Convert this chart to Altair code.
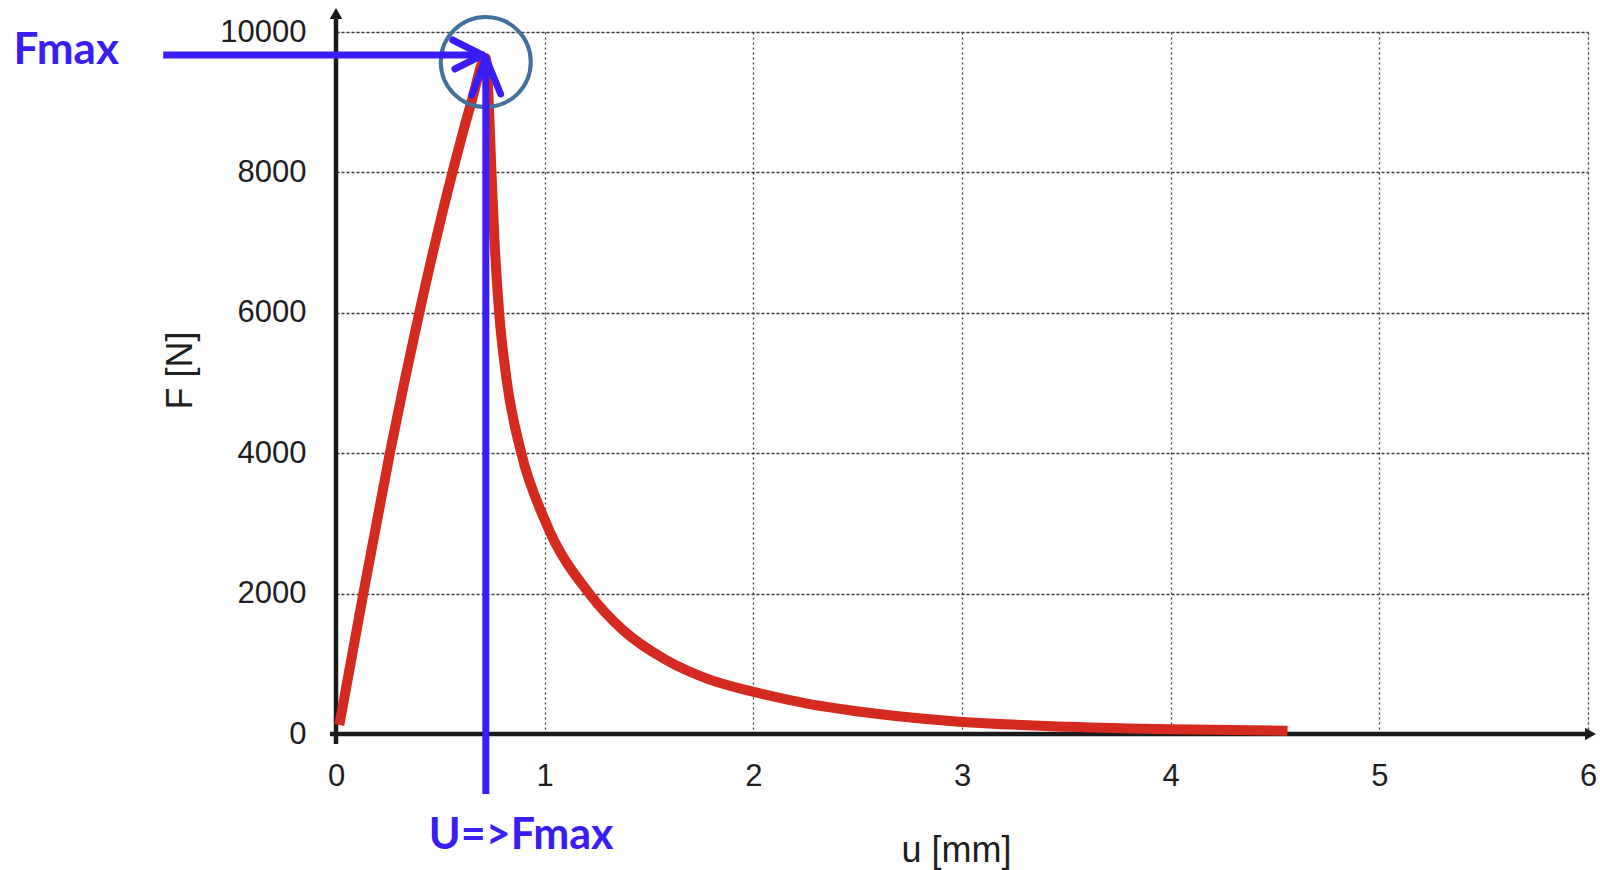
import altair as alt
import pandas as pd

# ---- data ----
u_mm = [0.016, 0.131, 0.258, 0.399, 0.558, 0.649, 0.718,
        0.732, 0.745, 0.760, 0.782, 0.815, 0.888, 1.000, 1.223,
        1.375, 1.582, 1.774, 1.997, 2.252, 2.571, 2.986, 3.510, 4.000, 4.560]
f_n = [128, 2000, 4000, 6000, 8000, 9000, 9630,
       9000, 8000, 7000, 6000, 5100, 4000, 3050, 1966,
       1481, 1054, 793, 603, 437, 295, 175, 104, 67, 47]

x_ticks = [0, 1, 2, 3, 4, 5, 6]
y_ticks = [0, 2000, 4000, 6000, 8000, 10000]

# annotation segments (data coordinates)
seg_u = [-0.828, 0.703, 0.703, 0.718, 0.718, 0.718]
seg_u2 = [0.703, 0.560, 0.570, 0.718, 0.651, 0.789]
seg_f = [9672, 9672, 9672, -855, 9630, 9630]
seg_f2 = [9672, 9886, 9473, 9630, 9103, 9117]

# axis lines (data coordinates)
axis_u = [-0.029, 0.0]
axis_u2 = [6.0, 0.0]
axis_f = [0, -142]
axis_f2 = [0, 10250]

W, H = 1252, 702
xs = alt.Scale(domain=[0, 6], nice=False, zero=False)
ys = alt.Scale(domain=[0, 10000], nice=False, zero=False)

BLUE = "#3A1CF4"
LABEL_FONT = "Liberation Sans"

curve_df = pd.DataFrame({"u": u_mm, "F": f_n, "i": list(range(len(u_mm)))})
seg_df = pd.DataFrame({"u": seg_u, "u2": seg_u2, "F": seg_f, "F2": seg_f2,
                       "main": [1, 0, 0, 1, 0, 0]})
axis_df = pd.DataFrame({"u": axis_u, "u2": axis_u2, "F": axis_f, "F2": axis_f2})
arrow_df = pd.DataFrame({"u": [6.012, 0.0], "F": [0, 10264],
                         "shape": ["triangle-right", "triangle-up"]})
circle_df = pd.DataFrame({"u": [0.7177], "F": [9573]})
text_df = pd.DataFrame({"u": [-1.545, 0.445], "F": [9550, -1638],
                        "label": ["Fmax", "U=>Fmax"],
                        "size": [44, 43]})

x_axis = alt.Axis(values=x_ticks, grid=True, gridDash=[2, 3], gridColor="#3a3a3a",
                  gridWidth=1.3, domain=False, ticks=False, tickSize=0,
                  labelFlush=False, labelPadding=27, labelFont=LABEL_FONT,
                  labelFontSize=31, labelColor="#1e1e1e", title="u [mm]",
                  titleFont=LABEL_FONT, titleFontSize=36, titleFontWeight="normal",
                  titleColor="#1e1e1e", titleX=620, titleY=116,
                  titleBaseline="middle", titleAlign="center")
y_axis = alt.Axis(values=y_ticks, grid=True, gridDash=[3, 2], gridColor="#3a3a3a",
                  gridWidth=1.3, domain=False, ticks=False, tickSize=0,
                  labelFlush=False, labelPadding=30, labelFont=LABEL_FONT,
                  labelFontSize=31, labelColor="#1e1e1e", labelBaseline="middle",
                  format="d", title="F [N]", titleFont=LABEL_FONT, titleFontSize=36,
                  titleFontWeight="normal", titleColor="#1e1e1e", titleAngle=270,
                  titleX=-156, titleY=338, titleBaseline="middle", titleAlign="center")


def X():
    return alt.X("u:Q", scale=xs, axis=x_axis)


def Y():
    return alt.Y("F:Q", scale=ys, axis=y_axis)


axes = alt.Chart(axis_df).mark_rule(color="#1a1a1a", strokeWidth=4.5).encode(
    x=X(), x2="u2:Q", y=Y(), y2="F2:Q",
)

arrows = alt.Chart(arrow_df).mark_point(
    filled=True, color="#1a1a1a", size=160, opacity=1
).encode(
    x=X(), y=Y(),
    shape=alt.Shape("shape:N", scale=None),
)

curve = alt.Chart(curve_df).mark_line(
    color="#D42A20", strokeWidth=10, interpolate="monotone",
    strokeCap="butt", strokeJoin="round"
).encode(
    x=X(), y=Y(), order="i:Q",
)

circle = alt.Chart(circle_df).mark_point(
    shape="circle", filled=False, stroke="#41719C", strokeWidth=4,
    size=8100, opacity=1
).encode(x=X(), y=Y())

blue_main = alt.Chart(seg_df).transform_filter("datum.main == 1").mark_rule(
    color=BLUE, strokeWidth=7, strokeCap="butt"
).encode(x=X(), x2="u2:Q", y=Y(), y2="F2:Q")

blue_heads = alt.Chart(seg_df).transform_filter("datum.main == 0").mark_rule(
    color=BLUE, strokeWidth=7, strokeCap="round"
).encode(x=X(), x2="u2:Q", y=Y(), y2="F2:Q")

texts = alt.Chart(text_df).mark_text(
    font="Lato", fontWeight="bold", color=BLUE,
    align="left", baseline="alphabetic"
).encode(x=X(), y=Y(), text="label:N",
         size=alt.Size("size:Q", scale=None, legend=None))

chart = alt.layer(axes, arrows, curve, circle, blue_main, blue_heads, texts).properties(
    width=W, height=H,
    autosize=alt.AutoSizeParams(type="none"),
    padding={"left": 336, "top": 32, "right": 12, "bottom": 136},
).configure_view(stroke=None).configure(background="white")

chart.save("out.html", embed_options={"renderer": "svg", "actions": False})
